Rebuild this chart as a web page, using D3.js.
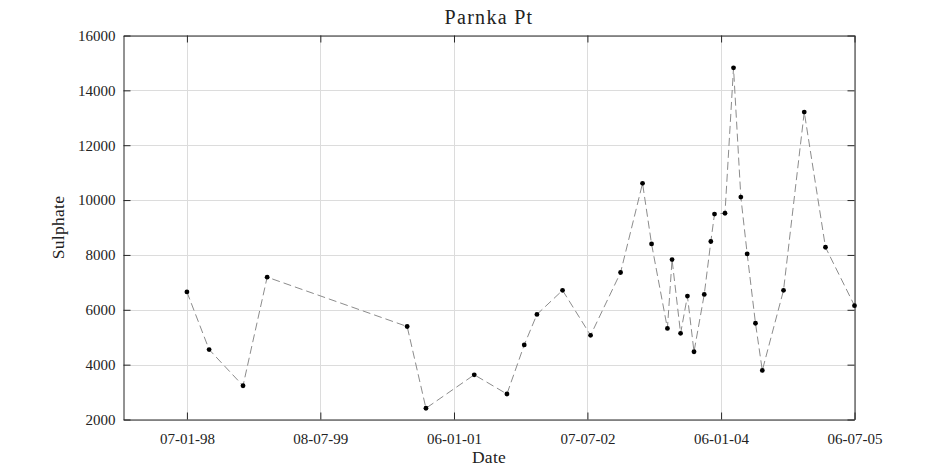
<!DOCTYPE html>
<html><head><meta charset="utf-8">
<script src="https://cdn.jsdelivr.net/npm/d3@7"></script>
<style>
html,body{margin:0;padding:0;background:#fff;}
text{font-family:"Liberation Serif","Times New Roman",serif;fill:#222;}
</style></head>
<body>
<svg id="c" width="945" height="472"></svg>
<script>
const dates = ["1998-01-07","1998-04-08","1998-08-25","1998-12-02","2000-06-28","2000-09-13","2001-03-30","2001-08-11","2001-10-21","2001-12-12","2002-03-27","2002-07-20","2002-11-20","2003-02-18","2003-03-27","2003-05-31","2003-06-19","2003-07-24","2003-08-21","2003-09-17","2003-10-29","2003-11-25","2003-12-10","2004-01-22","2004-02-26","2004-03-27","2004-04-22","2004-05-26","2004-06-23","2004-09-18","2004-12-12","2005-03-09","2005-07-06"];
const sulphate = [6650,4550,3230,7190,5390,2410,3630,2930,4720,5830,6710,5070,7360,10610,8400,5320,7830,5140,6500,4470,6560,8490,9490,9520,14820,10110,8040,5510,3790,6710,13210,8280,6150];
const xTickDates = ["1998-01-07","1999-07-08","2001-01-06","2002-07-07","2004-01-06","2005-07-06"];
const xTickLabels = ["07-01-98","08-07-99","06-01-01","07-07-02","06-01-04","06-07-05"];
const yTicks = [2000,4000,6000,8000,10000,12000,14000,16000];
const xDomain = ["1997-04-22","2005-07-06"];
const yDomain = [2000,16000];
const title = "Parnka Pt", xLabel = "Date", yLabel = "Sulphate";

const P = d3.utcParse("%Y-%m-%d");
const L = 123.5, R = 854.5, T = 35.5, B = 419.5;
const svg = d3.select("#c");
const x = d3.scaleUtc().domain(xDomain.map(P)).range([L, R]);
const y = d3.scaleLinear().domain(yDomain).range([B, T]);
const tickD = xTickDates.map(P);

// grid
const g = svg.append("g");
g.selectAll(".vg").data(tickD).join("line")
  .attr("x1", d => Math.round(x(d)) + 0.5).attr("x2", d => Math.round(x(d)) + 0.5)
  .attr("y1", T).attr("y2", B).attr("stroke", "#dcdcdc").attr("stroke-width", 1);
g.selectAll(".hg").data(yTicks).join("line")
  .attr("y1", d => Math.round(y(d)) + 0.5).attr("y2", d => Math.round(y(d)) + 0.5)
  .attr("x1", L).attr("x2", R).attr("stroke", "#dcdcdc").attr("stroke-width", 1);

// axes
const fmt = (d, i) => xTickLabels[i];
const xb = svg.append("g").attr("transform", `translate(0,${B})`)
  .call(d3.axisBottom(x).tickValues(tickD).tickFormat(fmt).tickSizeInner(-7).tickSizeOuter(0).tickPadding(14));
const xt = svg.append("g").attr("transform", `translate(0,${T})`)
  .call(d3.axisTop(x).tickValues(tickD).tickFormat("").tickSizeInner(-7).tickSizeOuter(0));
const yl = svg.append("g").attr("transform", `translate(${L},0)`)
  .call(d3.axisLeft(y).tickValues(yTicks).tickFormat(d3.format("d")).tickSizeInner(-7).tickSizeOuter(0).tickPadding(8));
const yr = svg.append("g").attr("transform", `translate(${R},0)`)
  .call(d3.axisRight(y).tickValues(yTicks).tickFormat("").tickSizeInner(-7).tickSizeOuter(0));
[xb, xt, yl, yr].forEach(a => {
  a.select(".domain").attr("stroke", "#262626").attr("stroke-width", 1);
  a.selectAll(".tick line").attr("stroke", "#262626");
  a.selectAll("text").attr("font-family", "Liberation Serif").attr("font-size", 15).attr("fill", "#222");
});

// line
const line = d3.line().x((d, i) => x(P(dates[i]))).y(d => y(d));
svg.append("path").datum(sulphate).attr("d", line)
  .attr("fill", "none").attr("stroke", "#8c8c8c").attr("stroke-width", 1)
  .attr("stroke-dasharray", "8,4");
svg.selectAll(".pt").data(sulphate).join("circle")
  .attr("cx", (d, i) => x(P(dates[i]))).attr("cy", d => y(d)).attr("r", 2.4)
  .attr("fill", "#000");

// labels
svg.append("text").attr("x", (L + R) / 2).attr("y", 24).attr("text-anchor", "middle")
  .attr("font-size", 20).attr("letter-spacing", 1.3).text(title);
svg.append("text").attr("x", (L + R) / 2).attr("y", 463).attr("text-anchor", "middle")
  .attr("font-size", 17.5).attr("letter-spacing", 0.3).text(xLabel);
svg.append("text").attr("transform", `translate(64,${(T + B) / 2}) rotate(-90)`).attr("text-anchor", "middle")
  .attr("font-size", 17.5).attr("letter-spacing", 0.3).text(yLabel);
</script>
</body></html>
